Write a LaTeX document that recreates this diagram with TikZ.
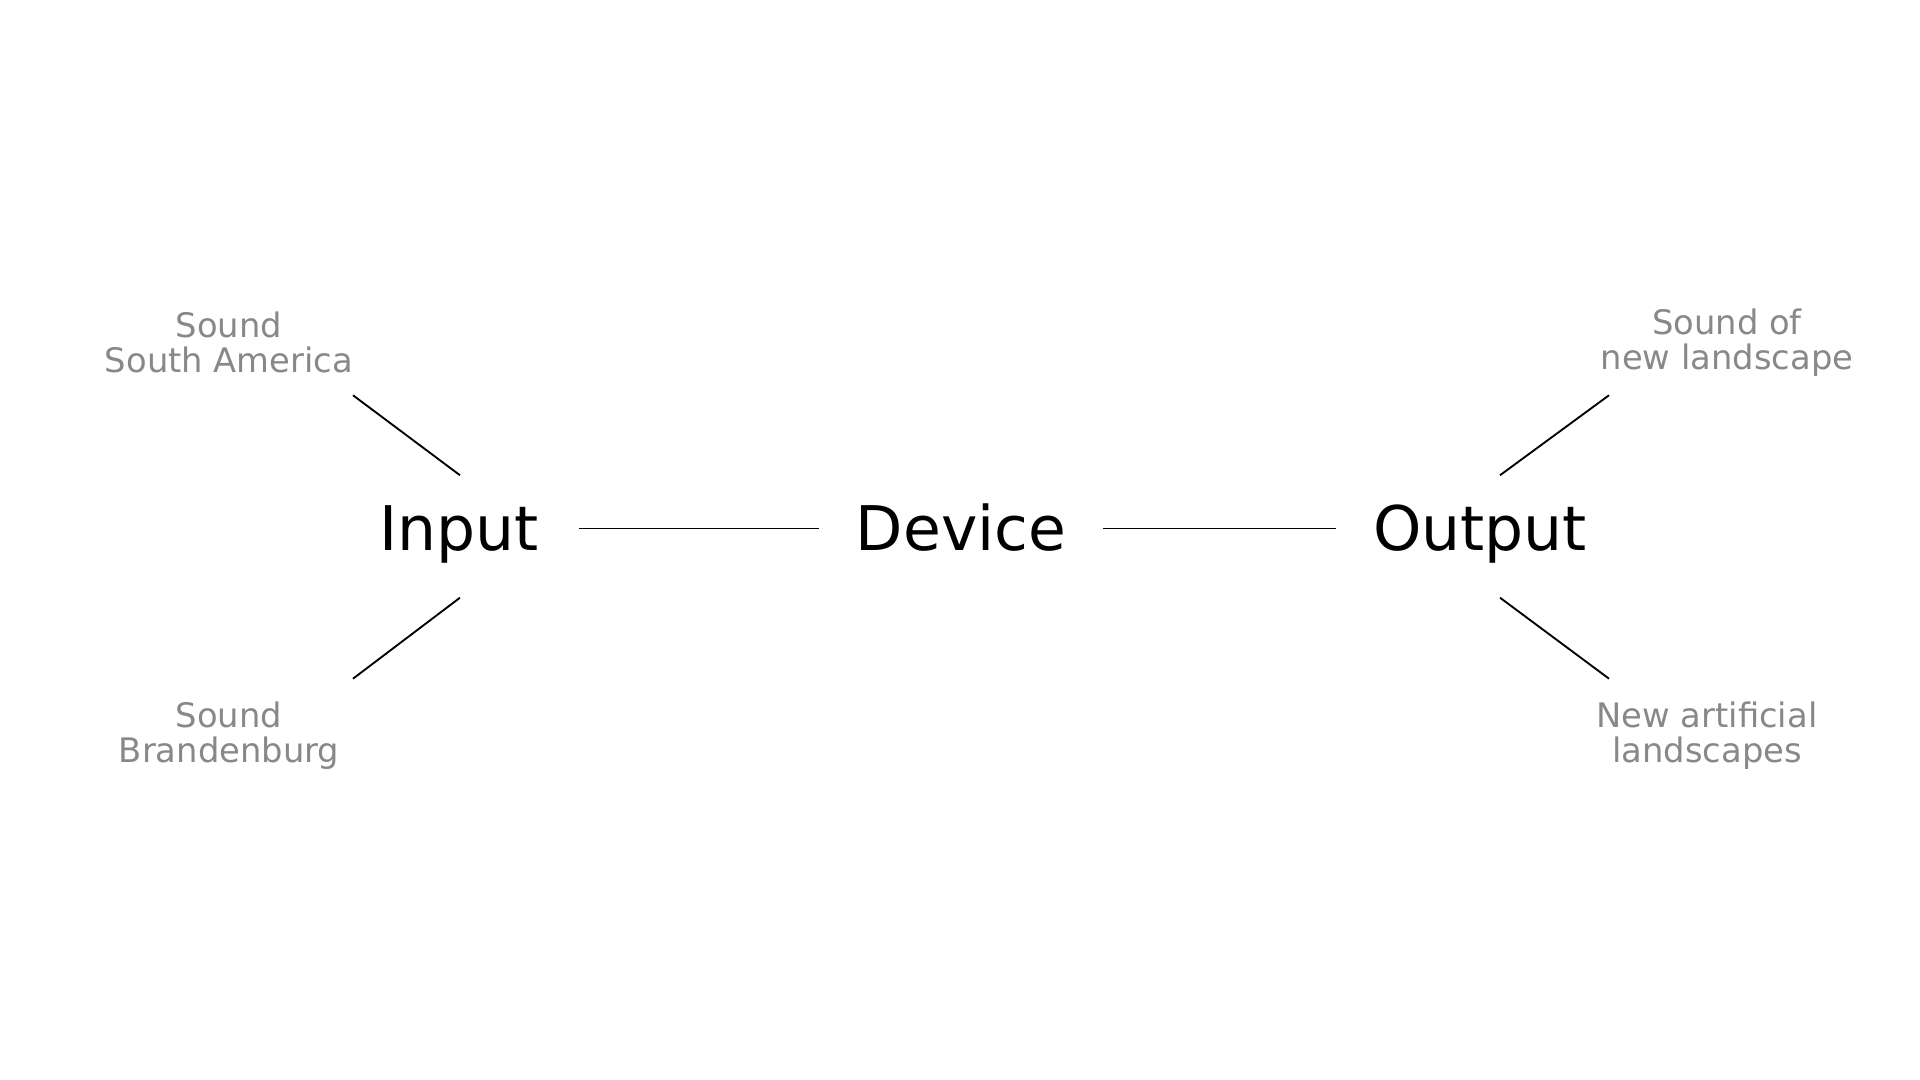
\documentclass[tikz,border=0pt]{standalone}
\usepackage{fontspec}
\setmainfont{DejaVu Sans}
\usetikzlibrary{calc}
\definecolor{labelgray}{RGB}{136,136,136}

\begin{document}
\begin{tikzpicture}[x=0.01cm,y=-0.01cm,
    word/.style={font=\fontsize{17.5}{20}\selectfont, text height=4.5mm, text depth=0pt,
      inner xsep=4mm, inner ysep=0pt, anchor=base},
    note/.style={font=\fontsize{9.6}{10.2}\selectfont, text=labelgray, align=center,
      anchor=base, inner sep=0pt},
    link/.style={line width=0.53pt}]
  \useasboundingbox (0,0) rectangle (1920,1080);
  % main chain
  \node[word] (in) at (459,551) {Input};
  \node[word, inner xsep=3.6mm] (dev) at (961,551) {Device};
  \node[word, inner xsep=3.6mm] (out) at (1480,551) {Output};
  \draw[link] (in) -- (dev);
  \draw[link] (dev) -- (out);
  % what goes in
  \node[note] (sa) at (229,373) {Sound\\South America};
  \node[note] (bb) at (229,763) {Sound\\Brandenburg};
  \draw[link] ($(in.north)+(1,-30)$) -- ($(in.north)+(-106,-110)$);
  \draw[link] ($(in.south)+(1,46)$) -- ($(in.south)+(-106,127)$);
  % what comes out
  \node[note] (nl) at (1727,370) {Sound of\\new landscape};
  \node[note] (al) at (1707,763) {New artificial\\landscapes};
  \draw[link] ($(out.north)+(20,-30)$) -- ($(out.north)+(129,-110)$);
  \draw[link] ($(out.south)+(20,46)$) -- ($(out.south)+(129,127)$);
\end{tikzpicture}
\end{document}
